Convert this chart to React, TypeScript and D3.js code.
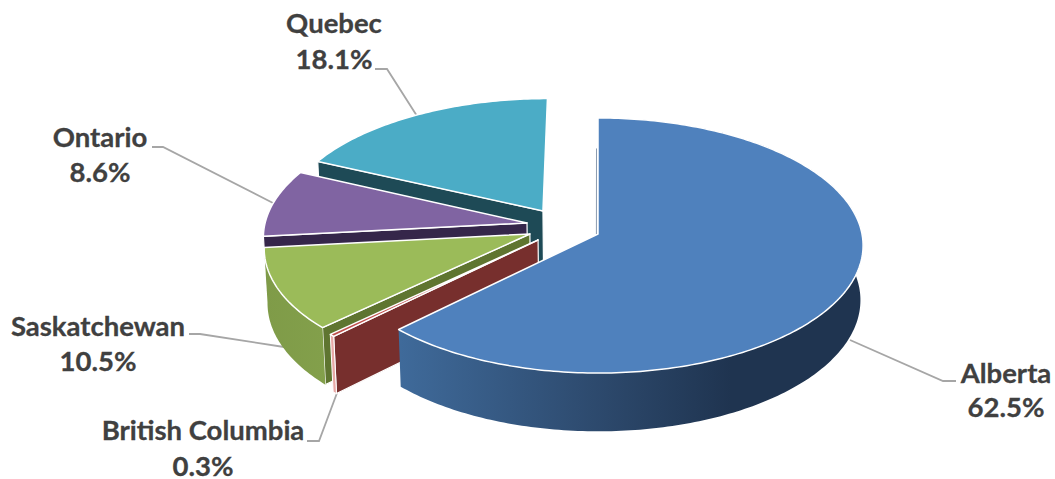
import React from "react";
import * as d3 from "d3";

const provinces = ["Alberta", "British Columbia", "Saskatchewan", "Ontario", "Quebec"];
const shares = [62.5, 0.3, 10.5, 8.6, 18.1];
const shareLabels = ["62.5%", "0.3%", "10.5%", "8.6%", "18.1%"];

const topColors = ["#4F81BD", "#C0504D", "#9BBB59", "#8064A2", "#4BACC6"];
const edgeColors = ["#2B4A70", "#772F2D", "#5F7530", "#35264A", "#1E4A56"];
const wallFills = ["url(#wallBlue)", "#E8A9A6", "url(#wallGreen)", "#4D3B62", "#2C6F80"];

// explosion of each slice on the pie's ground plane
const offsetU = [0, -0.226, -0.258, -0.271, -0.212];
const offsetV = [0, -0.047, 0, 0.088, 0.185];

const W = 1055, H = 479;
const cx = 598, cy = 234, R = 264, A = 126.5, K = 0.0902, DEPTH = 55, DEPTH_K = 0.01;

type P = [number, number];
const project = (u: number, v: number, z: number): P => {
  const w = 1 + K * v + DEPTH_K * z;
  return [cx + (R * u) / w, cy + (-A * v + DEPTH * z) / w];
};

const pieGen = d3.pie<number>().sort(null).value((d) => d);
const slices = pieGen(shares);
const line = d3.line<P>().curve(d3.curveLinear);

const rim = (i: number, a0: number, a1: number, z: number): P[] => {
  const n = Math.max(2, Math.ceil((a1 - a0) * 60));
  return d3.range(n + 1).map((k) => {
    const a = a0 + ((a1 - a0) * k) / n;
    return project(offsetU[i] + Math.sin(a), offsetV[i] + Math.cos(a), z);
  });
};

const topPath = (i: number) => {
  const s = slices[i];
  return line([project(offsetU[i], offsetV[i], 0), ...rim(i, s.startAngle, s.endAngle, 0)]) + "Z";
};
const edgeWall = (i: number) => {
  const a = slices[i].startAngle;
  const u = offsetU[i], v = offsetV[i];
  return line([
    project(u, v, 0),
    project(u + Math.sin(a), v + Math.cos(a), 0),
    project(u + Math.sin(a), v + Math.cos(a), 1),
    project(u, v, 1),
  ]) + "Z";
};
const outerWall = (i: number) => {
  const s = slices[i];
  return line([...rim(i, s.startAngle, s.endAngle, 0), ...rim(i, s.startAngle, s.endAngle, 1).reverse()]) + "Z";
};
const isFront = (i: number) => Math.cos((slices[i].startAngle + slices[i].endAngle) / 2) < 0;

const labelX = [1006, 203, 98, 100, 334];
const nameY = [383, 440, 336, 147, 33];
const valueY = [417, 476, 371, 182, 69];
const leaders: P[][] = [
  [[956, 381], [943, 381], [850, 340]],
  [[307, 441], [319, 441], [337, 393]],
  [[189, 334], [200, 334], [284, 347]],
  [[152, 147], [163, 147], [273, 203]],
  [[375, 69], [387, 69], [417, 116]],
];

const drawOrder = [4, 3, 2, 1, 0];

export default function App() {
  return (
    <svg
      width={W}
      height={H}
      viewBox={`0 0 ${W} ${H}`}
      style={{ position: "absolute", left: 0, top: 0, display: "block" }}
    >
      <defs>
        <linearGradient id="wallBlue" gradientUnits="userSpaceOnUse" x1={400} x2={860} y1={0} y2={0}>
          <stop offset="0" stopColor="#3F6A9A" />
          <stop offset="0.45" stopColor="#2C486B" />
          <stop offset="0.72" stopColor="#1F3450" />
          <stop offset="1" stopColor="#1F3450" />
        </linearGradient>
        <linearGradient id="wallGreen" gradientUnits="userSpaceOnUse" x1={265} x2={330} y1={0} y2={0}>
          <stop offset="0" stopColor="#7F9B48" />
          <stop offset="1" stopColor="#83A04B" />
        </linearGradient>
      </defs>
      {leaders.map((pts, i) => (
        <path key={i} d={line(pts) ?? ""} fill="none" stroke="#A6A6A6" strokeWidth={1.8} />
      ))}
      {drawOrder.map((i) => (
        <g key={provinces[i]}>
          {i !== 0 && <path d={edgeWall(i)} fill={edgeColors[i]} stroke="#fff" strokeWidth={1.2} />}
          {isFront(i) && <path d={outerWall(i)} fill={wallFills[i]} stroke={i === 1 ? "#fff" : "none"} strokeWidth={1} />}
          <path d={topPath(i)} fill={topColors[i]} stroke="#fff" strokeWidth={1.5} strokeLinejoin="round" />
        </g>
      ))}
      <path d={line([project(-0.006, 0.72, 0), project(-0.006, 0, 0)]) ?? ""} stroke="#8A9BB0" strokeWidth={1} fill="none" />
      {provinces.map((name, i) => (
        <g key={name} fontFamily="Lato, sans-serif" fontWeight={700} fontSize={27.5} fill="#404040" stroke="#404040" strokeWidth={0.3} textAnchor="middle">
          <text x={labelX[i]} y={nameY[i]}>{name}</text>
          <text x={labelX[i]} y={valueY[i]}>{shareLabels[i]}</text>
        </g>
      ))}
    </svg>
  );
}
